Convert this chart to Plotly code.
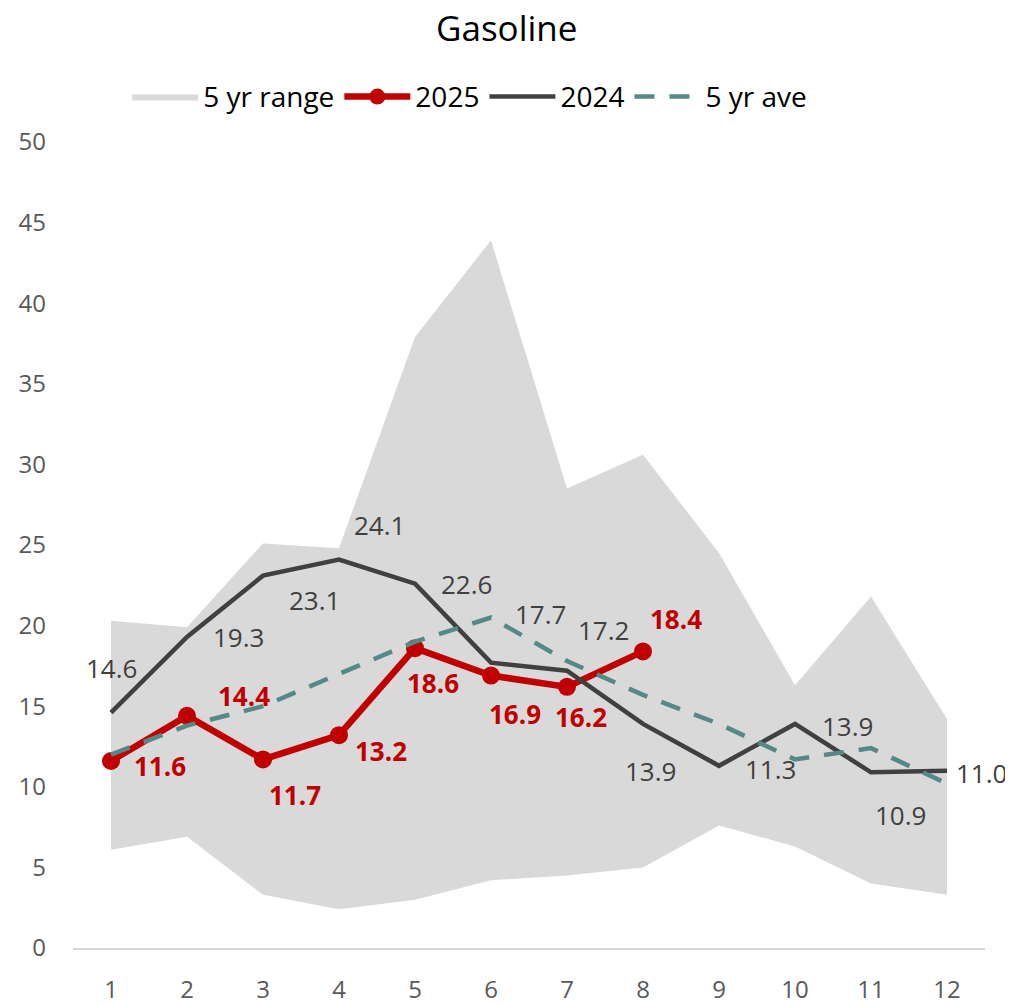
import plotly.graph_objects as go

months = [1, 2, 3, 4, 5, 6, 7, 8, 9, 10, 11, 12]
range_low = [6.1, 6.9, 3.3, 2.4, 3.0, 4.2, 4.5, 5.0, 7.6, 6.3, 4.0, 3.3]
range_high = [20.3, 19.9, 25.1, 24.8, 37.9, 43.9, 28.5, 30.6, 24.5, 16.3, 21.8, 14.2]
y2025 = [11.6, 14.4, 11.7, 13.2, 18.6, 16.9, 16.2, 18.4]
y2024 = [14.6, 19.3, 23.1, 24.1, 22.6, 17.7, 17.2, 13.9, 11.3, 13.9, 10.9, 11.0]
ave5 = [12.0, 13.8, 15.0, 17.0, 19.0, 20.5, 17.8, 15.7, 13.9, 11.7, 12.4, 10.2]
yticks = [0, 5, 10, 15, 20, 25, 30, 35, 40, 45, 50]
TITLE = "Gasoline"

FONT = "Open Sans"
RED = "#C00000"
DARK = "#404040"
TEAL = "#568887"
GRAY = "#D9D9D9"

fig = go.Figure()
fig.add_trace(go.Scatter(x=months, y=range_low, mode="lines", line=dict(width=0, color=GRAY),
                         showlegend=False, hoverinfo="skip"))
fig.add_trace(go.Scatter(x=months, y=range_high, mode="lines", line=dict(width=0, color=GRAY),
                         fill="tonexty", fillcolor=GRAY, name="5 yr range"))
fig.add_trace(go.Scatter(x=months[:len(y2025)], y=y2025, mode="lines+markers", name="2025",
                         line=dict(color=RED, width=6.5), marker=dict(color=RED, size=18)))
fig.add_trace(go.Scatter(x=months, y=y2024, mode="lines", name="2024",
                         line=dict(color=DARK, width=4.5)))
fig.add_trace(go.Scatter(x=months, y=ave5, mode="lines", name="5 yr ave",
                         line=dict(color=TEAL, width=4.5, dash="20px,15px")))

# label offsets (pixels): (dx, dy up)
off2024 = [(0, 45), (51, 0), (51, -24), (40, 35), (51, 0), (49, 49), (36, 41), (7, -47),
           (51, -3), (52, -2), (29, -43), (34, -2)]
off2025 = [(49, -5), (57, 20), (32, -36), (42, -16), (18, -35), (24, -38), (14, -30), (33, 32)]

for i, v in enumerate(y2024):
    dx, dy = off2024[i]
    fig.add_annotation(x=months[i], y=v, text=f"{v:.1f}", showarrow=False, xshift=dx, yshift=dy,
                       font=dict(family=FONT, size=26, color=DARK))
for i, v in enumerate(y2025):
    dx, dy = off2025[i]
    fig.add_annotation(x=months[i], y=v, text=f"<b>{v:.1f}</b>", showarrow=False, xshift=dx, yshift=dy,
                       font=dict(family=FONT, size=26, color=RED))

# chart title as a centred text block above the legend
fig.add_annotation(text=TITLE, xref="paper", yref="paper", x=0.475, y=1.142, xanchor="center",
                   yanchor="middle", showarrow=False, font=dict(family=FONT, size=35, color="black"))

# page body has an 8px margin, so the figure is sized to fit the 1013x1005 window
fig.update_layout(
    width=1005, height=997,
    margin=dict(l=65, r=28, t=134, b=57, autoexpand=False),
    paper_bgcolor="white", plot_bgcolor="white",
    legend=dict(orientation="h", x=0.435, xanchor="center", y=1.056, yanchor="middle",
                font=dict(family=FONT, size=28, color="black"), traceorder="normal",
                bgcolor="rgba(0,0,0,0)", tracegroupgap=0, itemwidth=66),
    showlegend=True,
)
fig.update_xaxes(range=[0.5, 12.5], tickvals=months, ticktext=[str(m) for m in months],
                 showgrid=False, zeroline=False, showline=True, linecolor="#D9D9D9", linewidth=2,
                 ticks="", tickfont=dict(family=FONT, size=24, color="#595959"), ticklabelstandoff=19,
                 automargin=False)
fig.update_yaxes(range=[0, 50], tickvals=yticks, showgrid=False, zeroline=False, showline=False,
                 ticks="", tickfont=dict(family=FONT, size=24, color="#595959"), ticklabelstandoff=26,
                 automargin=False)

fig.write_html("out.html")
